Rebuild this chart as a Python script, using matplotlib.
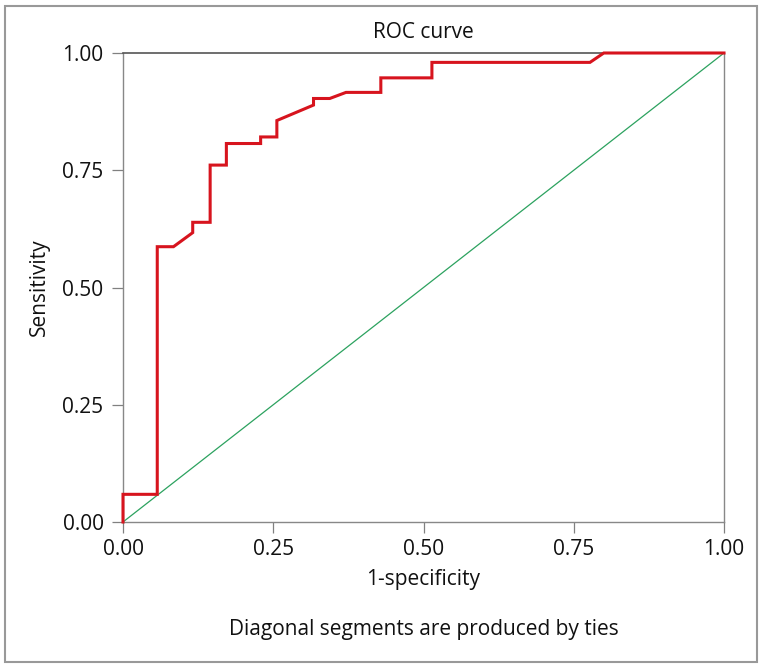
import matplotlib
matplotlib.use('Agg')
import matplotlib.pyplot as plt
from matplotlib.patches import Rectangle

# ROC curve points (1-specificity, sensitivity)
fpr = [0.0, 0.0, 0.057, 0.057, 0.084, 0.116, 0.116, 0.145, 0.145, 0.172, 0.172,
       0.229, 0.229, 0.256, 0.256, 0.317, 0.317, 0.344, 0.371, 0.429, 0.429,
       0.514, 0.514, 0.777, 0.800, 1.0]
tpr = [0.0, 0.059, 0.059, 0.587, 0.587, 0.617, 0.639, 0.639, 0.761, 0.761, 0.807,
       0.807, 0.821, 0.821, 0.856, 0.889, 0.903, 0.903, 0.916, 0.916, 0.947,
       0.947, 0.980, 0.980, 1.0, 1.0]
ref_line = [0.0, 1.0]
ticks = [0.0, 0.25, 0.5, 0.75, 1.0]
tick_labels = ['0.00', '0.25', '0.50', '0.75', '1.00']

plt.rcParams['font.family'] = ['Open Sans', 'DejaVu Sans']
fs = 15
W, H = 762, 668

fig = plt.figure(figsize=(W / 100, H / 100), dpi=100)
ax = fig.add_axes([123 / W, 1 - 522 / H, 601 / W, 469 / H])

ax.plot(ref_line, ref_line, color='#2ca25f', lw=0.9, zorder=2, clip_on=False)
ax.plot(fpr, tpr, color='#d7141e', lw=2.2, zorder=3, clip_on=False,
        solid_joinstyle='miter')

ax.set_xlim(0, 1)
ax.set_ylim(0, 1)
ax.set_xticks(ticks)
ax.set_xticklabels(tick_labels)
ax.set_yticks(ticks)
ax.set_yticklabels(tick_labels)
ax.tick_params(direction='out', length=8, width=0.9, color='#808080',
               labelsize=fs, labelcolor='#111111')
ax.tick_params(axis='y', pad=6)
ax.tick_params(axis='x', pad=4)
for s in ['left', 'bottom', 'right']:
    ax.spines[s].set_color('#888888')
    ax.spines[s].set_linewidth(1.0)
ax.spines['top'].set_color('#555555')
ax.spines['top'].set_linewidth(1.2)

ax.set_xlabel('1-specificity', fontsize=fs, color='#111111')
ax.xaxis.set_label_coords(0.5, -0.101)
ax.set_ylabel('Sensitivity', fontsize=fs, color='#111111')
ax.yaxis.set_label_coords(-0.121, 0.5)

fig.text(423.5 / W, 1 - 32 / H, 'ROC curve', fontsize=fs, ha='center',
         va='center', color='#111111')
fig.text(423.5 / W, 1 - 630 / H, 'Diagonal segments are produced by ties',
         fontsize=fs, ha='center', va='center', color='#111111')

# outer frame
fig.patches.append(Rectangle((5 / W, 6 / H), 752 / W, 656 / H,
                             transform=fig.transFigure, fill=False,
                             edgecolor='#999999', lw=1.5))

fig.savefig('out.png', dpi=100)
